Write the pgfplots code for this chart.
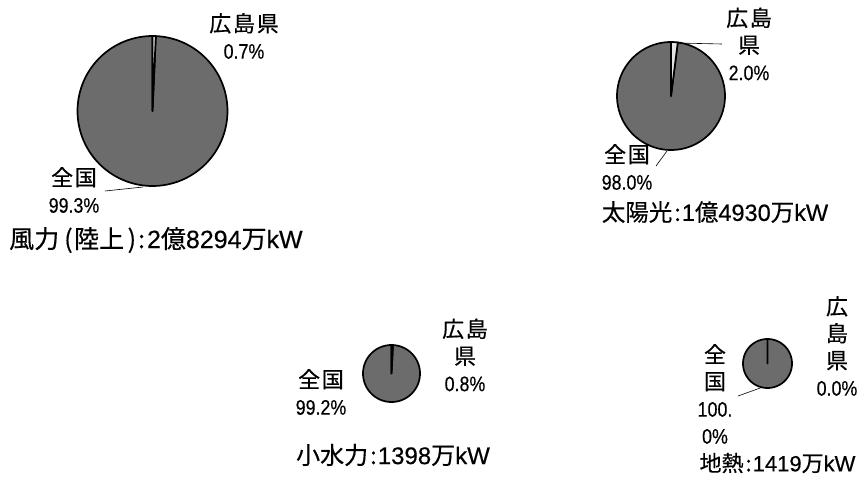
\documentclass[border=0pt]{standalone}
\usepackage{fontspec}
\setmainfont{Noto Sans CJK JP}[FakeBold=0.4]
\newfontfamily\cjkl{Noto Sans CJK JP}[LetterSpace=8, FakeBold=0.4]
\newfontfamily\latn{Liberation Sans}[FakeStretch=0.85, FakeBold=0.4]
\newfontfamily\latt{Liberation Sans}[FakeBold=0.4]
\usepackage{pgfplots}
\pgfplotsset{compat=1.18}

\definecolor{pieDark}{RGB}{108,108,108}
\definecolor{pieLight}{RGB}{228,228,228}

% slice labels: spaced kanji, narrow figures
\tikzset{
  lbl/.style={font=\fontsize{22}{27}\selectfont\cjkl, inner sep=0pt, align=center},
  ttl/.style={font=\fontsize{#1}{#1}\selectfont, inner sep=0pt},
}
\newcommand\lnum[1]{{\fontsize{21}{27}\selectfont\latn #1}}
\newcommand\tn[1]{{\latt #1}}

% \pieshare{cx}{cy}{radius}{Hiroshima share in %}
% The Hiroshima slice starts at twelve o'clock and runs clockwise.
\newcommand\pieshare[4]{%
  \addplot[draw=black, line width=1.7pt, fill=pieDark, line join=round,
           domain={#4*3.6}:360, samples=144, variable=\t]
    ({#1+#3*sin(t)},{#2-#3*cos(t)}) -- (axis cs:#1,#2) -- cycle;
  \ifdim#4pt>0pt
  \addplot[draw=black, line width=1.7pt, fill=pieLight, line join=round,
           domain=0:{#4*3.6}, samples=8, variable=\t]
    ({#1+#3*sin(t)},{#2-#3*cos(t)}) -- (axis cs:#1,#2) -- cycle;
  \fi
}

\begin{document}
\begin{tikzpicture}
\begin{axis}[
  width=859pt, height=477pt, scale only axis,
  xmin=0, xmax=859, ymin=0, ymax=477, y dir=reverse,
  hide axis, clip=false,
]
% 風力（陸上）
\pieshare{152.5}{111}{75}{0.7}
% 太陽光
\pieshare{671}{96}{54}{2.0}
% 小水力
\pieshare{391.5}{373.5}{28.5}{0.8}
% 地熱
\pieshare{767.5}{363.5}{24.5}{0.0}

% leader lines
\draw[line width=0.6pt] (axis cs:105,191) -- (axis cs:143,187);
\draw[line width=0.6pt] (axis cs:677,43) -- (axis cs:722,44);
\draw[line width=0.6pt] (axis cs:656,166) -- (axis cs:667,151);
\draw[line width=0.6pt] (axis cs:738,396) -- (axis cs:763,387);

% slice labels
\node[lbl] at (axis cs:244,36) {広島県\\\lnum{0.7\%}};
\node[lbl] at (axis cs:74,190) {全国\\\lnum{99.3\%}};
\node[lbl] at (axis cs:749,44) {広島\\県\\\lnum{2.0\%}};
\node[lbl] at (axis cs:627,167) {全国\\\lnum{98.0\%}};
\node[lbl] at (axis cs:321,392) {全国\\\lnum{99.2\%}};
\node[lbl] at (axis cs:465,355) {広島\\県\\\lnum{0.8\%}};
\node[lbl] at (axis cs:715,394) {全\\国\\\lnum{100.}\\\lnum{0\%}};
\node[lbl] at (axis cs:837,346) {広\\島\\県\\\lnum{0.0\%}};

% titles
\node[ttl=25, anchor=west] at (axis cs:9,240)
  {風力\kern5pt(\kern1.5pt陸上\kern3.5pt)\kern2pt:\kern2pt\tn{2}億\tn{8294}万\tn{kW}};
\node[ttl=23.5] at (axis cs:715,212) {太陽光\kern2pt:\kern1pt\tn{1}億\tn{4930}万\tn{kW}};
\node[ttl=24] at (axis cs:393,455) {小水力\kern2pt:\kern1pt\tn{1398}万\tn{kW}};
\node[ttl=22] at (axis cs:777.5,463) {地熱\kern2pt:\kern1pt\tn{1419}万\tn{kW}};
\end{axis}
\pgfresetboundingbox
\path (0,0) rectangle (859pt,477pt);
\end{tikzpicture}
\end{document}
